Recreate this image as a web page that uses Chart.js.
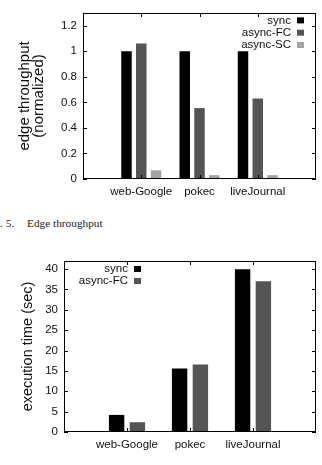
<!DOCTYPE html>
<html>
<head>
<meta charset="utf-8">
<script src="https://cdn.jsdelivr.net/npm/chart.js@4.4.1/dist/chart.umd.min.js"></script>
<style>
  html, body { margin: 0; padding: 0; background: #fff; width: 322px; height: 465px; overflow: hidden; }
  .box { position: absolute; left: 0; width: 322px; }
  #topBox { top: 0; height: 200px; }
  #botBox { top: 240px; height: 225px; }
  .cap { position: absolute; top: 217px; font: 11.3px 'Liberation Serif', serif; color: #222; white-space: nowrap; }
</style>
</head>
<body>
<div class="box" id="topBox"><canvas id="throughputChart"></canvas></div>
<span class="cap" style="left:0">. 5.</span>
<span class="cap" style="left:27px">Edge throughput</span>
<div class="box" id="botBox"><canvas id="timeChart"></canvas></div>
<script>
'use strict';

// data
const categories = ['web-Google', 'pokec', 'liveJournal'];
const throughputSync = [1.0, 1.0, 1.0];
const throughputAsyncFC = [1.06, 0.555, 0.63];
const throughputAsyncSC = [0.068, 0.03, 0.03];
const throughputTicks = [0, 0.2, 0.4, 0.6, 0.8, 1, 1.2];
const timeSync = [4.2, 15.6, 40.0];
const timeAsyncFC = [2.4, 16.6, 37.0];
const timeTicks = [0, 5, 10, 15, 20, 25, 30, 35, 40];

const COLORS = { sync: '#000000', fc: '#555555', sc: '#a3a3a3' };
const FONT = "'Liberation Sans', Arial, sans-serif";

Chart.defaults.font.family = FONT;
Chart.defaults.color = '#111';

// gnuplot 스타일: 범주 양쪽에 빈 칸
const paddedLabels = ['', ...categories, ''];
const pad = arr => [null, ...arr, null];

// 테두리 + 안쪽 눈금
const framePlugin = {
  id: 'frame',
  afterDatasetsDraw(chart) {
    const { ctx, chartArea: a, scales } = chart;
    ctx.save();
    ctx.strokeStyle = '#000';
    ctx.lineWidth = 1;
    ctx.beginPath();
    scales.y.ticks.forEach(t => {
      const y = Math.round(scales.y.getPixelForValue(t.value)) + 0.5;
      ctx.moveTo(a.left, y); ctx.lineTo(a.left + 4, y);
      ctx.moveTo(a.right, y); ctx.lineTo(a.right - 4, y);
    });
    for (let i = 1; i <= categories.length; i++) {
      const x = Math.round(scales.x.getPixelForTick(i)) + 0.5;
      ctx.moveTo(x, a.bottom); ctx.lineTo(x, a.bottom - 4);
      ctx.moveTo(x, a.top); ctx.lineTo(x, a.top + 4);
    }
    ctx.stroke();
    ctx.strokeRect(Math.round(a.left) + 0.5, Math.round(a.top) + 0.5,
      Math.round(a.width) - 1, Math.round(a.height) - 1);
    ctx.restore();
  }
};

// gnuplot 범례 (글자 오른쪽 정렬, 색상 박스는 오른쪽)
function keyPlugin(opt) {
  return {
    id: 'key',
    afterDraw(chart) {
      const { ctx, chartArea: a } = chart;
      ctx.save();
      ctx.font = '11.5px ' + FONT;
      ctx.textAlign = 'right';
      ctx.textBaseline = 'middle';
      chart.data.datasets.forEach((ds, i) => {
        const y = a.top + opt.top + i * opt.step;
        const tx = opt.fromRight ? a.right - opt.textX : a.left + opt.textX;
        const bx = opt.fromRight ? a.right - opt.boxX : a.left + opt.boxX;
        ctx.fillStyle = '#111';
        ctx.fillText(ds.label, tx, y);
        ctx.fillStyle = ds.backgroundColor;
        ctx.fillRect(bx, y - 3, 7, 6);
      });
      ctx.restore();
    }
  };
}

function bar(label, values, color, cp, bp) {
  return {
    label,
    data: pad(values),
    backgroundColor: color,
    borderColor: color,
    borderWidth: 0,
    categoryPercentage: cp,
    barPercentage: bp,
  };
}

function makeScales(cfg) {
  return {
    x: {
      offset: false,
      grid: { display: false, drawTicks: false },
      border: { display: false },
      ticks: { padding: 6, font: { size: 11.5 }, color: '#111', maxRotation: 0, autoSkip: false },
      afterFit(s) { s.height = cfg.xHeight; },
    },
    y: {
      min: 0,
      max: cfg.max,
      grid: { display: false, drawTicks: false },
      border: { display: false },
      ticks: {
        stepSize: cfg.step, padding: 6, font: { size: 11.5 }, color: '#111',
        callback: v => String(+v.toFixed(2)),
      },
      afterBuildTicks(s) { s.ticks = cfg.ticks.map(v => ({ value: v })); },
      afterFit(s) { s.width = cfg.yWidth; },
      title: {
        display: true,
        text: cfg.title,
        font: { size: cfg.titleSize, lineHeight: cfg.titleLine },
        color: '#111',
        padding: { top: cfg.titlePad, bottom: 0 },
      },
    },
  };
}

new Chart(document.getElementById('throughputChart'), {
  type: 'bar',
  plugins: [framePlugin, keyPlugin({ fromRight: true, top: 7.5, step: 12.3, textX: 25, boxX: 19 })],
  data: {
    labels: paddedLabels,
    datasets: [
      bar('sync', throughputSync, COLORS.sync, 0.76, 0.71),
      bar('async-FC', throughputAsyncFC, COLORS.fc, 0.76, 0.71),
      bar('async-SC', throughputAsyncSC, COLORS.sc, 0.76, 0.71),
    ],
  },
  options: {
    responsive: true,
    maintainAspectRatio: false,
    animation: false,
    layout: { padding: { top: 8, right: 4, left: 0, bottom: 0 } },
    plugins: { legend: { display: false }, tooltip: { enabled: false } },
    scales: makeScales({
      max: 1.3, step: 0.2, ticks: throughputTicks,
      xHeight: 21, yWidth: 83,
      title: ['edge throughput', '(normalized)'],
      titleSize: 15, titleLine: '14px', titlePad: 18,
    }),
  },
});

new Chart(document.getElementById('timeChart'), {
  type: 'bar',
  plugins: [framePlugin, keyPlugin({ fromRight: false, top: 8, step: 12, textX: 64, boxX: 70 })],
  data: {
    labels: paddedLabels,
    datasets: [
      bar('sync', timeSync, COLORS.sync, 0.66, 0.74),
      bar('async-FC', timeAsyncFC, COLORS.fc, 0.66, 0.74),
    ],
  },
  options: {
    responsive: true,
    maintainAspectRatio: false,
    animation: false,
    layout: { padding: { top: 21, right: 4, left: 0, bottom: 0 } },
    plugins: { legend: { display: false }, tooltip: { enabled: false } },
    scales: makeScales({
      max: 42, step: 5, ticks: timeTicks,
      xHeight: 33, yWidth: 64,
      title: 'execution time (sec)',
      titleSize: 14.5, titleLine: '15px', titlePad: 20,
    }),
  },
});
</script>
</body>
</html>
